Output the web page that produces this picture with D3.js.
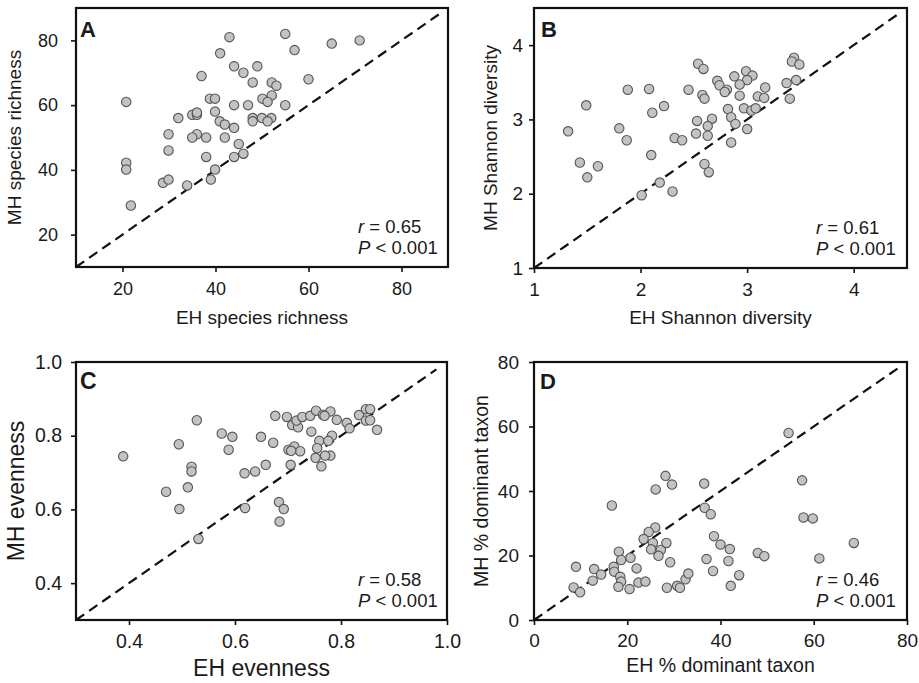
<!DOCTYPE html>
<html>
<head>
<meta charset="utf-8">
<script src="https://cdn.jsdelivr.net/npm/d3@7"></script>
<style>
  html, body { margin: 0; padding: 0; background: #fff; }
  svg text { font-family: "Liberation Sans", Arial, sans-serif; fill: #1a1a1a; }
</style>
</head>
<body>
<div id="chart"></div>
<script>
// A: species richness
const richnessEH = [43, 55, 41, 57, 65, 71, 44, 49, 46, 37, 48, 52.1, 53.1, 60, 52.1, 50.1, 51.2, 38.8, 39.9, 44, 47, 55,
  20.8, 39.9, 32, 35, 36, 36, 40.9, 42, 44, 48, 48, 50, 52, 51.2, 29.9, 36, 35, 38, 42, 45, 29.9, 38, 44, 46,
  20.8, 20.8, 39.9, 39, 28.7, 29.9, 33.9, 21.8];
const richnessMH = [81, 82, 76, 77, 79, 80, 72, 72, 70, 69, 67, 67, 66, 68, 63, 62, 61, 62, 62, 60, 60, 60,
  61, 58, 56, 57, 57, 57.7, 55, 54, 53, 56, 55, 56, 56, 55, 51, 51, 50, 50, 50, 48, 46, 44, 44, 45,
  42.2, 40.1, 40.1, 37, 36, 37, 35.2, 29];

// B: Shannon diversity
const shannonEH = [2.54, 2.59, 3.44, 3.42, 3.49, 2.72, 2.74, 2.88, 2.99, 3.05, 3.0, 2.93, 2.81, 2.79, 2.93, 3.1, 3.17, 3.16,
  3.37, 3.46, 3.4, 2.45, 2.58, 2.6, 1.88, 2.08, 1.49, 2.11, 2.22, 2.82, 2.97, 3.04, 3.08, 2.85, 2.89, 3.0,
  2.53, 2.67, 2.63, 2.52, 2.63, 2.85, 1.32, 1.8, 1.87, 2.32, 2.39, 2.1, 1.43, 1.6, 1.5, 2.6, 2.64, 2.18, 2.3, 2.01];
const shannonMH = [3.75, 3.68, 3.83, 3.78, 3.74, 3.52, 3.46, 3.58, 3.65, 3.59, 3.53, 3.47, 3.4, 3.37, 3.32, 3.31, 3.43, 3.29,
  3.49, 3.53, 3.28, 3.4, 3.33, 3.28, 3.4, 3.41, 3.19, 3.09, 3.18, 3.14, 3.15, 3.12, 3.15, 3.03, 2.94, 2.87,
  2.98, 3.01, 2.91, 2.81, 2.78, 2.69, 2.84, 2.88, 2.72, 2.75, 2.72, 2.52, 2.42, 2.37, 2.22, 2.4, 2.29, 2.15, 2.03, 1.98];

// C: evenness
const evennessEH = [0.389, 0.494, 0.528, 0.518, 0.518, 0.511, 0.47, 0.495, 0.531, 0.575, 0.595, 0.588, 0.618, 0.638, 0.658,
  0.619, 0.649, 0.672, 0.676, 0.698, 0.708, 0.719, 0.716, 0.727, 0.742, 0.753, 0.766, 0.78, 0.769, 0.792, 0.811,
  0.816, 0.834, 0.847, 0.855, 0.847, 0.855, 0.868, 0.744, 0.759, 0.783, 0.755, 0.78, 0.776, 0.701, 0.712, 0.723,
  0.706, 0.705, 0.752, 0.763, 0.77, 0.683, 0.692, 0.684];
const evennessMH = [0.744, 0.777, 0.842, 0.716, 0.703, 0.66, 0.648, 0.601, 0.52, 0.806, 0.797, 0.762, 0.698, 0.703, 0.721,
  0.604, 0.797, 0.781, 0.854, 0.851, 0.829, 0.823, 0.841, 0.851, 0.854, 0.868, 0.857, 0.866, 0.854, 0.843, 0.835,
  0.82, 0.856, 0.872, 0.872, 0.841, 0.842, 0.816, 0.811, 0.786, 0.8, 0.766, 0.746, 0.786, 0.762, 0.771, 0.758,
  0.759, 0.721, 0.74, 0.717, 0.746, 0.62, 0.601, 0.567];

// D: % dominant taxon
const dominantEH = [54.6, 57.5, 57.8, 59.8, 68.6, 61.2, 28.2, 29.6, 26.1, 36.5, 16.7, 36.6, 37.9, 38.6, 40, 42, 41.7, 48, 49.4,
  37, 38.4, 44, 42.2, 26, 24.6, 23.5, 25.5, 25.1, 27.2, 26.7, 28.4, 29.2, 18.2, 18.7, 20.7, 17.1, 17.2, 22,
  9, 12.9, 14.4, 12.6, 18.5, 18.7, 18.1, 20.5, 22.4, 23.9, 8.5, 9.9, 28.5, 30.7, 31.3, 32.5, 33.1];
const dominantMH = [58, 43.3, 31.8, 31.5, 23.9, 19.1, 44.7, 42, 40.5, 42.3, 35.5, 34.8, 32.8, 26, 23.4, 22, 18.3, 20.8, 19.8,
  18.9, 15.2, 13.9, 10.6, 28.7, 27.3, 25.1, 23.9, 21.9, 21.7, 19.9, 23.9, 17.9, 21.2, 18.6, 19.3, 16.5, 15, 16,
  16.5, 15.8, 14.1, 12.2, 13.4, 11.9, 10.3, 9.6, 11.6, 11.9, 10.1, 8.6, 10, 10.6, 10, 12.6, 14.4];

const richnessTicks = [20, 40, 60, 80];
const shannonTicks = [1, 2, 3, 4];
const evennessTicks = [0.4, 0.6, 0.8, 1.0];
const dominantTicks = [0, 20, 40, 60, 80];

const panels = [
  { letter: 'A', xs: richnessEH, ys: richnessMH, ticks: richnessTicks, domain: [10, 90], lineEnd: 88, fmt: d3.format('d'),
    xTitle: 'EH species richness', yTitle: 'MH species richness', r: '0.65',
    left: 76, top: 8, w: 372, h: 259, tickFont: 18, titleFont: 19, padX: 10, padY: 13,
    xTitleY: 57, yTitleX: 21, letterFont: 22, letterX: 4, letterY: 29 },
  { letter: 'B', xs: shannonEH, ys: shannonMH, ticks: shannonTicks, domain: [1, 4.5], lineEnd: 4.42, fmt: d3.format('d'),
    xTitle: 'EH Shannon diversity', yTitle: 'MH Shannon diversity', r: '0.61',
    left: 534, top: 8, w: 373, h: 260, tickFont: 19, titleFont: 19, padX: 10, padY: 6,
    xTitleY: 56, yTitleX: 497, letterFont: 22, letterX: 7, letterY: 29 },
  { letter: 'C', xs: evennessEH, ys: evennessMH, ticks: evennessTicks, domain: [0.3, 1.0], lineEnd: 0.98, fmt: d3.format('.1f'),
    xTitle: 'EH evenness', yTitle: 'MH evenness', r: '0.58',
    left: 76, top: 362, w: 371, h: 258, tickFont: 19.5, titleFont: 23, padX: 9, padY: 9,
    xTitleY: 56, yTitleX: 24, letterFont: 23, letterX: 4, letterY: 27 },
  { letter: 'D', xs: dominantEH, ys: dominantMH, ticks: dominantTicks, domain: [0, 80], lineEnd: 78, fmt: d3.format('d'),
    xTitle: 'EH % dominant taxon', yTitle: 'MH % dominant taxon', r: '0.46',
    left: 534, top: 362, w: 373, h: 258, tickFont: 19, titleFont: 19.5, padX: 9, padY: 10,
    xTitleY: 52, yTitleX: 488, letterFont: 22, letterX: 6, letterY: 27 }
];

const svg = d3.select('#chart').append('svg')
  .attr('width', 919)
  .attr('height', 683);

panels.forEach(p => {
  const x = d3.scaleLinear().domain(p.domain).range([0, p.w]);
  const y = d3.scaleLinear().domain(p.domain).range([p.h, 0]);
  const g = svg.append('g').attr('transform', `translate(${p.left},${p.top})`);

  // axes (ticks + labels only, the box is drawn separately)
  const xa = g.append('g').attr('transform', `translate(0,${p.h})`)
    .call(d3.axisBottom(x).tickValues(p.ticks).tickFormat(p.fmt).tickSize(5).tickPadding(p.padX));
  const ya = g.append('g')
    .call(d3.axisLeft(y).tickValues(p.ticks).tickFormat(p.fmt).tickSize(5).tickPadding(p.padY));
  [xa, ya].forEach(a => {
    a.select('.domain').remove();
    a.selectAll('.tick line').attr('stroke', '#111').attr('stroke-width', 1.6);
    a.selectAll('.tick text').attr('font-size', p.tickFont).attr('fill', '#1a1a1a')
      .style('font-family', '"Liberation Sans", Arial, sans-serif');
  });

  // 1:1 line
  g.append('line')
    .attr('x1', x(p.domain[0])).attr('y1', y(p.domain[0]))
    .attr('x2', x(p.lineEnd)).attr('y2', y(p.lineEnd))
    .attr('stroke', '#111').attr('stroke-width', 2.2)
    .attr('stroke-dasharray', '10,6');

  // points
  g.append('g').selectAll('circle')
    .data(p.xs.map((v, i) => [v, p.ys[i]]))
    .enter().append('circle')
    .attr('cx', d => x(d[0]))
    .attr('cy', d => y(d[1]))
    .attr('r', 4.7)
    .attr('fill', '#c3c3c3')
    .attr('stroke', '#555')
    .attr('stroke-width', 1.1);

  // frame
  g.append('rect')
    .attr('width', p.w).attr('height', p.h)
    .attr('fill', 'none').attr('stroke', '#111').attr('stroke-width', 2.2);

  // panel letter
  g.append('text')
    .attr('x', p.letterX).attr('y', p.letterY)
    .attr('font-size', p.letterFont).attr('font-weight', 'bold')
    .text(p.letter);

  // stats
  const st = g.append('text').attr('x', 282).attr('y', p.h - 34).attr('font-size', 18.5);
  st.append('tspan').attr('font-style', 'italic').text('r');
  st.append('tspan').text(' = ' + p.r);
  const sp = g.append('text').attr('x', 282).attr('y', p.h - 13).attr('font-size', 18.5);
  sp.append('tspan').attr('font-style', 'italic').text('P');
  sp.append('tspan').text(' < 0.001');

  // axis titles
  g.append('text')
    .attr('x', p.w / 2).attr('y', p.h + p.xTitleY)
    .attr('text-anchor', 'middle').attr('font-size', p.titleFont)
    .text(p.xTitle);
  svg.append('text')
    .attr('transform', `translate(${p.yTitleX},${p.top + p.h / 2}) rotate(-90)`)
    .attr('text-anchor', 'middle').attr('font-size', p.titleFont)
    .text(p.yTitle);
});
</script>
</body>
</html>
